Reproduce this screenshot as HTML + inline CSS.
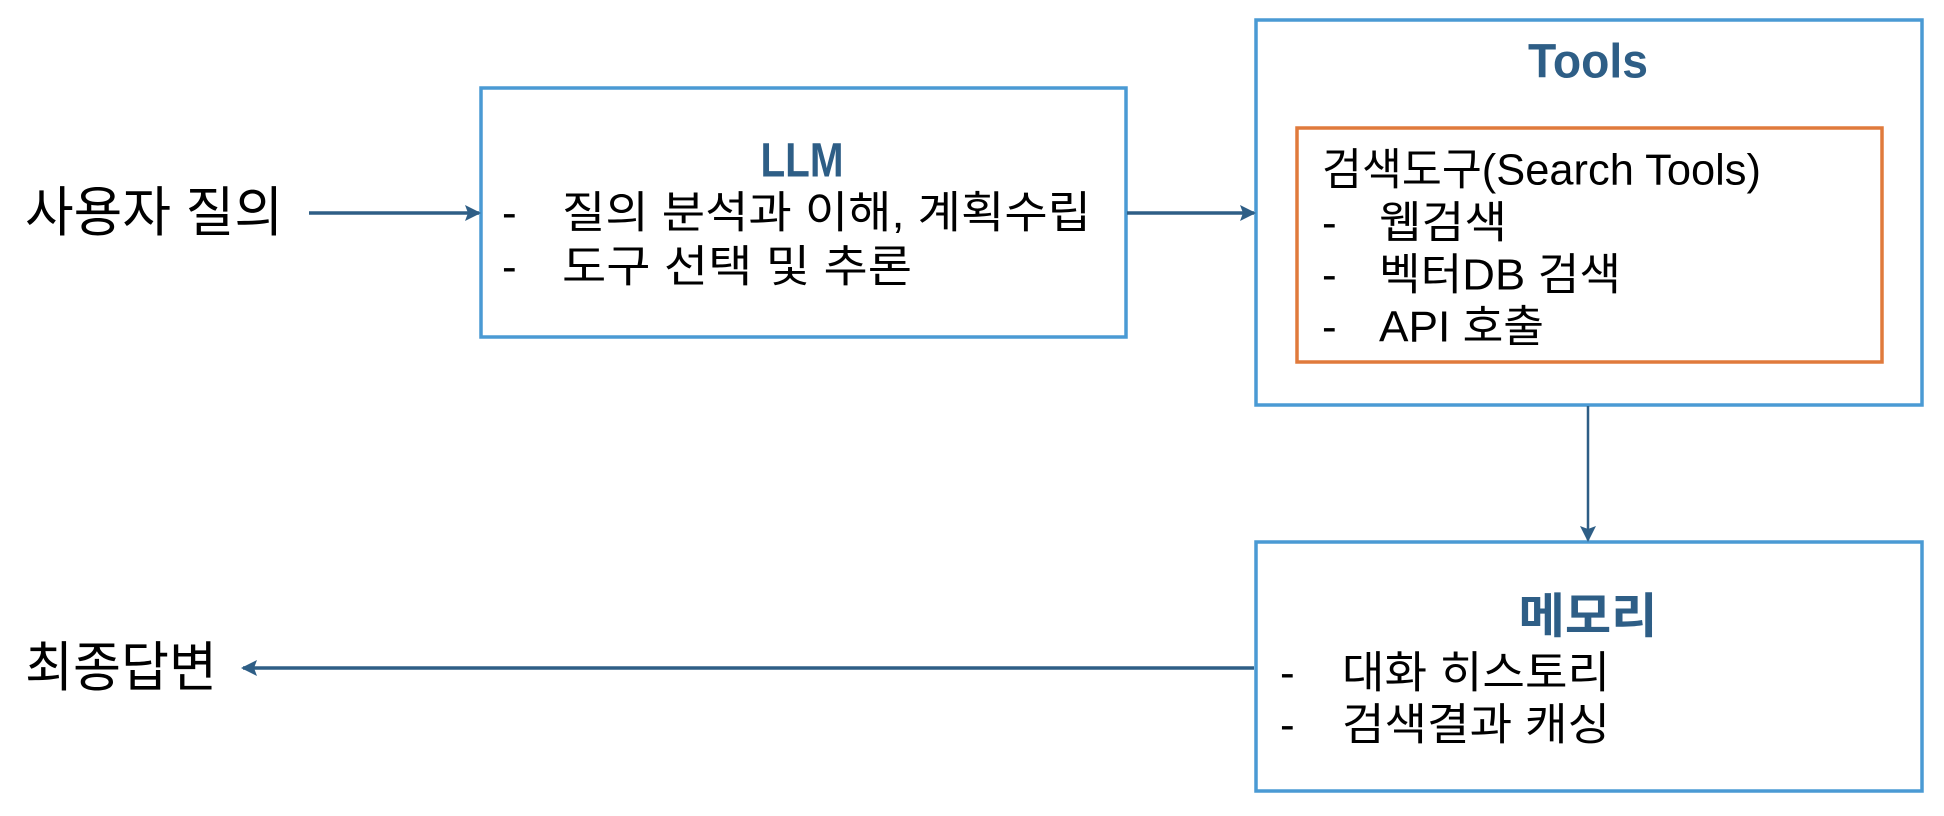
<!DOCTYPE html>
<html><head><meta charset="utf-8"><style>
html,body{margin:0;padding:0;background:#fff;}
svg{display:block}
text{font-family:"Liberation Sans","Noto Sans CJK KR",sans-serif;fill:#000;dominant-baseline:central}
.t{font-weight:bold;fill:#2e5e86;text-anchor:middle;font-size:48px}
.b{font-size:44px}
.l{font-size:54px}
</style></head><body>
<svg width="1944" height="816" viewBox="0 0 1944 816">
<defs>
<marker id="a2" markerWidth="16" markerHeight="16" refX="14" refY="8" orient="auto" markerUnits="userSpaceOnUse"><path d="M0,0 L16,8 L0,16 L3,8 Z" fill="#2e5e86"/></marker></defs>
<g fill="none" stroke="#4a9ad4" stroke-width="3.5">
<rect x="481" y="88" width="645" height="249"/>
<rect x="1256" y="20" width="666" height="385"/>
<rect x="1256" y="542" width="666" height="249"/>
</g>
<rect x="1297" y="128" width="585" height="234" fill="none" stroke="#e07a3c" stroke-width="3.5"/>
<g stroke="#2e5e86" stroke-width="3.5">
<line x1="309" y1="213" x2="479" y2="213" marker-end="url(#a2)"/>
<line x1="1127" y1="213" x2="1254" y2="213" marker-end="url(#a2)"/>
<line x1="1254" y1="668" x2="243" y2="668" marker-end="url(#a2)"/>
</g>
<line x1="1588" y1="406" x2="1588" y2="540" stroke="#2e5e86" stroke-width="2.5" marker-end="url(#a2)"/>
<g lengthAdjust="spacingAndGlyphs">
<text class="l" x="25" y="213" textLength="258" lengthAdjust="spacingAndGlyphs">사용자 질의</text>
<text class="l" x="25" y="668" textLength="192" lengthAdjust="spacingAndGlyphs">최종답변</text>
<text class="t" x="802" y="161" textLength="83" lengthAdjust="spacingAndGlyphs">LLM</text>
<text class="b" x="502" y="213">-</text><text class="b" x="562" y="213" textLength="529" lengthAdjust="spacingAndGlyphs">질의 분석과 이해, 계획수립</text>
<text class="b" x="502" y="267">-</text><text class="b" x="562" y="267" textLength="350" lengthAdjust="spacingAndGlyphs">도구 선택 및 추론</text>
<text class="t" x="1588" y="62" textLength="120" lengthAdjust="spacingAndGlyphs">Tools</text>
<text class="b" x="1322" y="170" textLength="439" lengthAdjust="spacingAndGlyphs">검색도구(Search Tools)</text>
<text class="b" x="1322" y="223">-</text><text class="b" x="1379" y="223" textLength="128" lengthAdjust="spacingAndGlyphs">웹검색</text>
<text class="b" x="1322" y="275">-</text><text class="b" x="1379" y="275" textLength="242" lengthAdjust="spacingAndGlyphs">벡터DB 검색</text>
<text class="b" x="1322" y="327">-</text><text class="b" x="1379" y="327" textLength="165" lengthAdjust="spacingAndGlyphs">API 호출</text>
<text class="t" x="1588" y="617" textLength="139" lengthAdjust="spacingAndGlyphs">메모리</text>
<text class="b" x="1280" y="673">-</text><text class="b" x="1342" y="673" textLength="268" lengthAdjust="spacingAndGlyphs">대화 히스토리</text>
<text class="b" x="1280" y="725">-</text><text class="b" x="1342" y="725" textLength="268" lengthAdjust="spacingAndGlyphs">검색결과 캐싱</text>
</g>
</svg>
</body></html>
